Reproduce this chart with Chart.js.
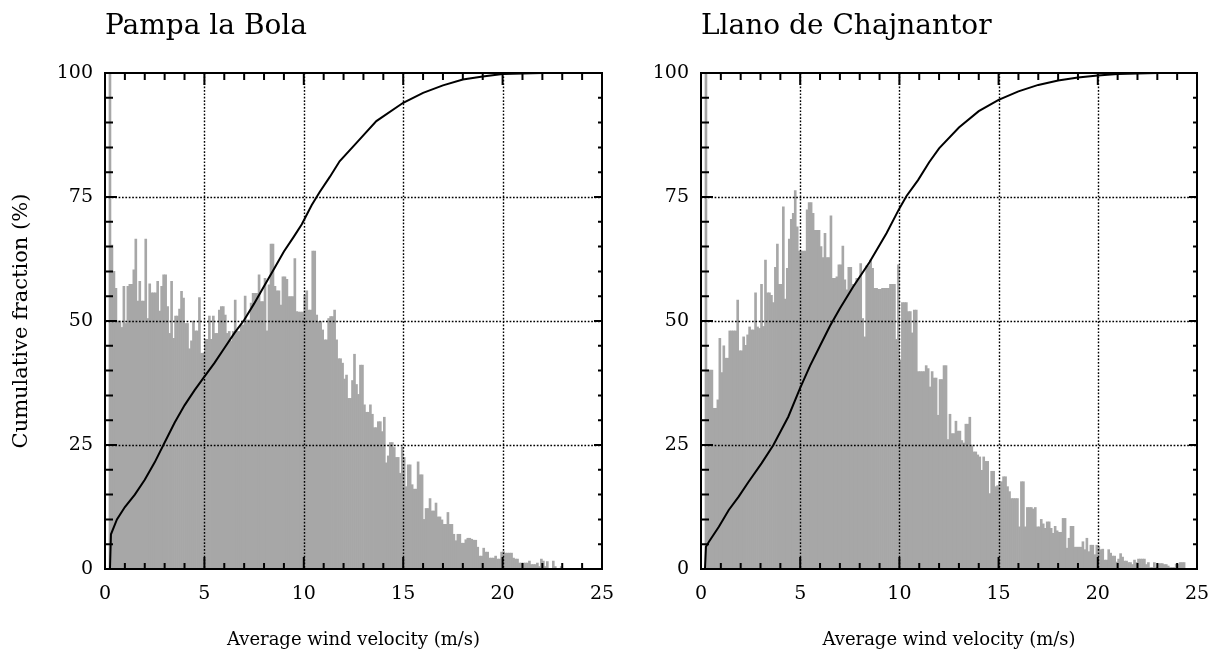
<!DOCTYPE html>
<html>
<head>
<meta charset="utf-8">
<script src="https://cdn.jsdelivr.net/npm/chart.js@4.4.1/dist/chart.umd.min.js"></script>
<style>
  html, body { margin: 0; padding: 0; background: #fff; }
  #wrap { position: relative; width: 1212px; height: 659px; }
  .panel { position: absolute; top: 0; height: 659px; }
</style>
</head>
<body>
<div id="wrap">
  <div class="panel" style="left:0;width:640px"><canvas id="left" width="640" height="659"></canvas></div>
  <div class="panel" style="left:606px;width:606px"><canvas id="right" width="606" height="659"></canvas></div>
</div>
<script>
// histogram bins are 0.1 m/s wide, starting at 0
const BIN_WIDTH = 0.1;
const X_TICKS = [0, 5, 10, 15, 20, 25];
const Y_TICKS = [0, 25, 50, 75, 100];

// Pampa la Bola: bar heights (same % axis as the curve)
const LEFT_COUNTS = [
  0, 0, 100, 65.3, 60, 56.6, 50, 50, 48.7, 57,
  49.5, 57, 57.4, 57.4, 60.3, 66.5, 54, 58, 54, 54,
  66.5, 50.5, 57.5, 55.7, 55.7, 55.7, 58, 52, 57, 59.3,
  59.3, 52.9, 47.5, 58, 46.5, 51, 51, 52.4, 56, 54.6,
  49.5, 49.5, 44.4, 46, 50, 48, 48, 54.7, 43.5, 43.5,
  46.3, 46.3, 51, 46.3, 51, 47.5, 47.5, 52.2, 52.9, 52.9,
  51.2, 47.5, 47.9, 46, 47.9, 54.2, 47.9, 47.9, 49.2, 49.2,
  55, 50.2, 50.2, 53.6, 55.6, 55.6, 55.6, 59.3, 53.9, 53.9,
  58.6, 48, 57.3, 65.5, 65.5, 57, 56.1, 56.1, 53.2, 58.9,
  58.9, 58.4, 54.9, 54.9, 54.9, 62.6, 51.9, 51.8, 51.8, 51.8,
  55.2, 56.1, 52.2, 52.2, 64.1, 64.1, 51.2, 49.9, 49.9, 48.2,
  46.2, 46.2, 50.5, 50.9, 50.9, 52.2, 46.2, 42.4, 42.4, 41.5,
  38.3, 39.1, 34.4, 34.4, 38, 43.3, 37.2, 35.2, 41.1, 41.1,
  33.1, 31.6, 31.6, 33.1, 31.2, 28.5, 28.5, 29.7, 29.7, 27.7,
  30.6, 21.4, 22.8, 25.5, 25.5, 24.5, 22.5, 22.5, 19.3, 24.6,
  22.5, 16.6, 21, 21, 17, 16.1, 16.1, 21.6, 19, 19,
  10, 12.2, 12.2, 14.2, 11.7, 11.7, 13.3, 10.5, 10.5, 9.9,
  9, 9, 11.4, 9, 9, 7, 5.7, 7, 7, 5.2,
  5.2, 5.9, 6.2, 6.2, 6, 5.8, 5.8, 4.4, 2.6, 2.6,
  4.2, 3.4, 3.4, 2.2, 2.2, 2.2, 2.6, 2, 2, 3.4,
  3.5, 3.2, 3.2, 3.2, 3.2, 2.2, 2, 2, 1.2, 1.2,
  1.2, 1.2, 1.2, 1.6, 0.9, 0.9, 0.9, 1.2, 0.5, 2,
  1.6, 0.5, 1.5, 0, 0, 1.6, 0.5, 0, 0, 0.5
];

// Llano de Chajnantor: bar heights
const RIGHT_COUNTS = [
  0, 0, 100, 40.1, 40.1, 40.1, 32.4, 32.4, 34.1, 46.5,
  39.6, 45, 42.5, 42.5, 48, 48, 48, 48, 54.2, 44,
  44, 46.8, 45.1, 47.2, 48.8, 48.2, 48.2, 55.7, 48.8, 48.5,
  57.4, 48.9, 62.3, 55.7, 55.7, 55.2, 53.7, 60.8, 65.5, 57.4,
  57.4, 73, 54.4, 60.6, 66.5, 70.5, 71.7, 76.3, 69, 64.1,
  64.1, 64.1, 64.1, 72.4, 73.9, 73.9, 71.7, 68.3, 68.3, 68.3,
  65, 62.8, 67.7, 62.8, 62.8, 71.2, 58.6, 58.6, 58.9, 61.3,
  61.3, 65.1, 58.3, 56.3, 60.8, 60.8, 57.4, 57.4, 58.6, 58.6,
  61.6, 50.5, 46.8, 61.1, 61.1, 62.3, 60.6, 56.6, 56.6, 56.4,
  56.4, 56.6, 56.6, 56.6, 56.6, 57.4, 57.4, 57.4, 46.3, 61.3,
  42.1, 53.7, 53.7, 53.7, 51.9, 51.9, 47.6, 52.2, 52.2, 39.8,
  39.8, 39.8, 39.8, 41, 40.4, 36.7, 39.8, 38.5, 38.5, 31,
  38.2, 38.2, 41, 41, 26.1, 31.2, 27.3, 27.3, 29.8, 27.8,
  27.8, 25.9, 25.4, 29.2, 29.2, 30.6, 25, 23.6, 23.6, 23,
  22.6, 19.9, 22.6, 21.7, 21.7, 15.2, 19.7, 19.7, 16.6, 16.8,
  17.6, 17.6, 18.6, 18.6, 16.6, 15.6, 14.2, 14.2, 14.2, 14.2,
  8.5, 17.6, 17.6, 8.5, 12.4, 12.4, 12.4, 12.1, 12.4, 8.5,
  8.5, 10, 9.1, 8.2, 9.5, 9.5, 8.2, 7.2, 8.6, 7.7,
  7.4, 7.4, 10.2, 10.2, 4.2, 6.2, 8.6, 8.6, 4.4, 4.4,
  4.4, 4.4, 5.5, 3.9, 6.2, 3.5, 4.8, 4.8, 2.9, 4.8,
  4.5, 3.9, 4, 1.8, 1.8, 3.9, 3.2, 2.6, 2.6, 1.4,
  2, 3.1, 2.4, 1.6, 1.6, 1.3, 1.3, 0.9, 1.8, 1.3,
  2, 2, 2, 2, 0.9, 1.3, 0.3, 0.3, 1.3, 0.3,
  1.1, 1.1, 1.1, 0.9, 0.9, 0.6, 0.3, 0.3, 0.3, 1,
  1, 1.3, 1.3, 1.3
];

// cumulative fraction (%)
const LEFT_CUM_V = [0.25, 0.3, 0.6, 1.0, 1.5, 2.0, 2.5, 3.0, 3.5, 4.0, 4.5, 5.0, 5.5, 6.0, 6.5, 7.0, 7.5, 8.0, 8.5,
  9.0, 9.5, 9.9, 10.4, 10.8, 11.3, 11.8, 12.65, 13.65, 15, 16, 17, 18, 19, 20, 22, 22.6];
const LEFT_CUM_PCT = [0, 7, 10, 12.5, 15, 18, 21.5, 25.5, 29.5, 33, 36, 38.8, 41.5, 44.5, 47.5, 50.2, 53.5, 57, 60.5,
  64, 67, 69.5, 73.4, 76, 79, 82.2, 85.9, 90.3, 94, 96, 97.5, 98.7, 99.3, 99.8, 100, 100];

const RIGHT_CUM_V = [0.2, 0.25, 0.4, 0.9, 1.4, 1.9, 2.4, 3.05, 3.65, 4.4, 5.0, 5.5, 6.0, 6.5, 7.0, 7.67, 8.5, 9.35,
  10.0, 10.36, 10.94, 11.5, 12, 13, 14, 15, 16, 17, 18, 19, 20, 21, 22, 23, 24.5];
const RIGHT_CUM_PCT = [0, 4.5, 5.5, 8.5, 11.9, 14.6, 17.6, 21.3, 25, 30.7, 36.5, 41, 45, 49, 52.5, 56.9, 61.9, 67.7,
  72.7, 75.2, 78.4, 82, 84.8, 89, 92.3, 94.6, 96.3, 97.6, 98.5, 99.1, 99.5, 99.8, 99.9, 100, 100];

const FONT = "'DejaVu Serif', serif";
const BAR_GRAY = '#a7a7a7';

function bins(counts) {
  return counts.map((c, k) => ({ x: (k + 0.5) * BIN_WIDTH, y: c }));
}
function pts(xs, ys) {
  return xs.map((x, i) => ({ x, y: ys[i] }));
}

// dotted grid at the labelled values, inward ticks on all four sides, solid frame
const frameTicks = {
  id: 'frameTicks',
  afterDatasetDraw(chart, args) {
    if (args.index !== 1) return;
    const { ctx, chartArea: a, scales: { x, y } } = chart;
    ctx.save();
    ctx.strokeStyle = '#000';
    ctx.lineWidth = 1.4;
    ctx.setLineDash([1.7, 1.7]);
    ctx.beginPath();
    X_TICKS.slice(1, -1).forEach(v => {
      const px = Math.round(x.getPixelForValue(v)) + 0.5;
      ctx.moveTo(px, a.top); ctx.lineTo(px, a.bottom);
    });
    Y_TICKS.slice(1, -1).forEach(v => {
      const py = Math.round(y.getPixelForValue(v)) + 0.5;
      ctx.moveTo(a.left, py); ctx.lineTo(a.right, py);
    });
    ctx.stroke();
    ctx.restore();
  },
  afterDraw(chart) {
    const { ctx, chartArea: a, scales: { x, y } } = chart;
    ctx.save();
    ctx.strokeStyle = '#000';
    ctx.lineWidth = 2;
    ctx.beginPath();
    for (let v = 0; v <= 25; v += 1) {
      const px = x.getPixelForValue(v);
      const major = X_TICKS.includes(v);
      ctx.moveTo(px, a.bottom); ctx.lineTo(px, a.bottom - (major ? 12 : 6));
      ctx.moveTo(px, a.top); ctx.lineTo(px, a.top + (major ? 12 : 7));
    }
    for (let v = 0; v <= 100; v += 5) {
      const py = y.getPixelForValue(v);
      const major = Y_TICKS.includes(v);
      ctx.moveTo(a.left, py); ctx.lineTo(a.left + (major ? 12 : 8), py);
      ctx.moveTo(a.right, py); ctx.lineTo(a.right - (major ? 8 : 4), py);
    }
    ctx.stroke();
    ctx.strokeRect(a.left, a.top, a.right - a.left, a.bottom - a.top);
    ctx.restore();
  }
};

function noEdgePadding(s) {
  s.paddingLeft = 0; s.paddingRight = 0; s.paddingTop = 0; s.paddingBottom = 0;
}

function makeChart(id, title, counts, cumV, cumPct, opts) {
  return new Chart(document.getElementById(id), {
    type: 'bar',
    data: {
      datasets: [
        {
          type: 'line', data: pts(cumV, cumPct), borderColor: '#000', borderWidth: 2,
          pointRadius: 0, tension: 0, fill: false,
        },
        {
          type: 'bar', data: bins(counts), backgroundColor: BAR_GRAY, borderWidth: 0,
          barPercentage: 1, categoryPercentage: 1,
        },
      ],
    },
    options: {
      responsive: false,
      animation: false,
      events: [],
      layout: { padding: { left: 0, right: opts.padRight, top: 0, bottom: 0 } },
      plugins: {
        legend: { display: false },
        tooltip: { enabled: false },
        title: {
          display: true, text: title, align: 'start', fullSize: false, color: '#000',
          font: { family: FONT, size: 28, weight: 'normal', lineHeight: 1.2 },
          padding: { top: 10, bottom: 29.4 },
        },
      },
      scales: {
        x: {
          type: 'linear', min: 0, max: 25, offset: false,
          grid: { display: false }, border: { display: false },
          afterFit: s => { s.height = 90; noEdgePadding(s); },
          ticks: { stepSize: 5, color: '#000', padding: 6, font: { family: FONT, size: 19 } },
          title: {
            display: true, text: 'Average wind velocity (m/s)', color: '#000',
            font: { family: FONT, size: 18, lineHeight: 1.2 }, padding: { top: 0, bottom: 8 },
          },
        },
        y: {
          type: 'linear', min: 0, max: 100,
          grid: { display: false }, border: { display: false },
          afterFit: s => { s.width = opts.yWidth; noEdgePadding(s); },
          ticks: { stepSize: 25, color: '#000', padding: 4, font: { family: FONT, size: 19 } },
          title: {
            display: opts.yTitle, text: 'Cumulative fraction (%)', color: '#000',
            font: { family: FONT, size: 21, lineHeight: 1.2 }, padding: { top: 9, bottom: 0 },
          },
        },
      },
    },
    plugins: [frameTicks],
  });
}

makeChart('left', 'Pampa la Bola', LEFT_COUNTS, LEFT_CUM_V, LEFT_CUM_PCT, { padRight: 38, yWidth: 105, yTitle: true });
makeChart('right', 'Llano de Chajnantor', RIGHT_COUNTS, RIGHT_CUM_V, RIGHT_CUM_PCT, { padRight: 15, yWidth: 95, yTitle: false });
</script>
</body>
</html>
